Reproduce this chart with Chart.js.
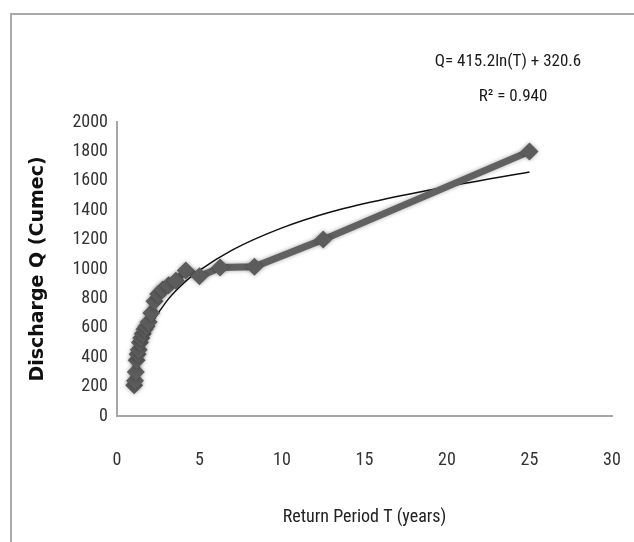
<!DOCTYPE html>
<html>
<head>
<meta charset="utf-8">
<script src="https://cdn.jsdelivr.net/npm/chart.js@4"></script>
<style>
  body { margin: 0; background: #fff; }
  #wrap { width: 634px; height: 542px; }
</style>
</head>
<body>
<div id="wrap"><canvas id="qChart" width="634" height="542"></canvas></div>
<script>
// return period T (years) and observed discharge Q (cumec)
const returnPeriod = [1.04, 1.09, 1.14, 1.19, 1.25, 1.32, 1.39, 1.47, 1.56, 1.67, 1.79, 1.92,
                      2.08, 2.27, 2.5, 2.78, 3.125, 3.57, 4.17, 5, 6.25, 8.33, 12.5, 25];
const discharge = [210, 240, 300, 380, 420, 450, 500, 530, 560, 590, 610, 640,
                   700, 780, 830, 860, 890, 920, 990, 950, 1010, 1015, 1200, 1800];

// log trendline
const trendT = [1, 1.5, 2, 3, 4, 5, 7, 10, 13, 16, 20, 25];
const trendQ = [330, 490, 610, 780, 900, 990, 1130, 1280, 1390, 1470, 1560, 1660];

const eqLines = ['Q= 415.2ln(T) + 320.6', 'R² = 0.940'];
const xTicks = [0, 5, 10, 15, 20, 25, 30];

const narrow = "'Liberation Sans Narrow', 'Roboto Condensed', 'Liberation Sans', sans-serif";

const observed = returnPeriod.map((t, i) => ({ x: t, y: discharge[i] }));
const trend = trendT.map((t, i) => ({ x: t, y: trendQ[i] }));

// outer frame + equation text
const framePlugin = {
    id: 'frame',
    beforeDraw(chart) {
        const ctx = chart.ctx;
        ctx.save();
        ctx.strokeStyle = '#a9a9a9';
        ctx.lineWidth = 2;
        ctx.strokeRect(11, 14, 700, 700);
        ctx.restore();
    },
    afterDraw(chart) {
        const ctx = chart.ctx;
        const area = chart.chartArea;
        ctx.save();
        ctx.fillStyle = '#1a1a1a';
        ctx.font = '17px ' + narrow;
        ctx.textAlign = 'center';
        ctx.textBaseline = 'middle';
        ctx.fillText(eqLines[0], area.right - 104, area.top - 60);
        ctx.fillText(eqLines[1], area.right - 99, area.top - 25);
        ctx.restore();
    }
};

// soft edges on the grey series
const shadowPlugin = {
    id: 'softShadow',
    beforeDatasetDraw(chart, args) {
        if (args.index !== 0) return;
        chart.ctx.save();
        chart.ctx.shadowColor = 'rgba(0,0,0,0.35)';
        chart.ctx.shadowBlur = 4;
    },
    afterDatasetDraw(chart, args) {
        if (args.index !== 0) return;
        chart.ctx.restore();
    }
};

new Chart(document.getElementById('qChart').getContext('2d'), {
    type: 'scatter',
    data: {
        datasets: [{
            label: 'Observed',
            data: observed,
            showLine: true,
            borderColor: '#616161',
            borderWidth: 7,
            pointStyle: 'rectRot',
            pointRadius: 9,
            pointBackgroundColor: '#5c5c5c',
            pointBorderColor: '#5c5c5c',
            pointBorderWidth: 0,
            tension: 0
        }, {
            label: 'Log trend',
            data: trend,
            showLine: true,
            borderColor: '#111',
            borderWidth: 1.5,
            pointRadius: 0,
            cubicInterpolationMode: 'monotone'
        }]
    },
    options: {
        responsive: false,
        animation: false,
        layout: { padding: { top: 122, right: 22, left: 0, bottom: 0 } },
        plugins: {
            legend: { display: false },
            tooltip: { enabled: false }
        },
        scales: {
            x: {
                type: 'linear',
                min: 0,
                max: 30,
                afterBuildTicks: scale => { scale.ticks = xTicks.map(v => ({ value: v })); },
                afterFit: scale => {
                    scale.height = 126;
                    scale.paddingLeft = 0;
                    scale.paddingRight = 0;
                },
                grid: { display: false, drawTicks: false },
                border: { display: true, color: '#a6a6a6', width: 2 },
                ticks: { padding: 34, color: '#333', font: { family: narrow, size: 18 } },
                title: {
                    display: true,
                    text: 'Return Period T (years)',
                    color: '#222',
                    font: { family: narrow, size: 18 },
                    padding: { top: 0, bottom: 14 }
                }
            },
            y: {
                min: 0,
                max: 2000,
                afterFit: scale => {
                    scale.width = 117;
                    scale.paddingTop = 0;
                    scale.paddingBottom = 0;
                },
                grid: { display: false, drawTicks: false },
                border: { display: true, color: '#a6a6a6', width: 2 },
                ticks: {
                    stepSize: 200,
                    padding: 9,
                    color: '#333',
                    font: { family: narrow, size: 18 },
                    callback: v => String(v)
                },
                title: {
                    display: true,
                    text: 'Discharge Q (Cumec)',
                    color: '#111',
                    font: { family: "'DejaVu Sans', sans-serif", size: 19, weight: 'bold' },
                    padding: { top: 27, bottom: 0 }
                }
            }
        }
    },
    plugins: [framePlugin, shadowPlugin]
});
</script>
</body>
</html>
